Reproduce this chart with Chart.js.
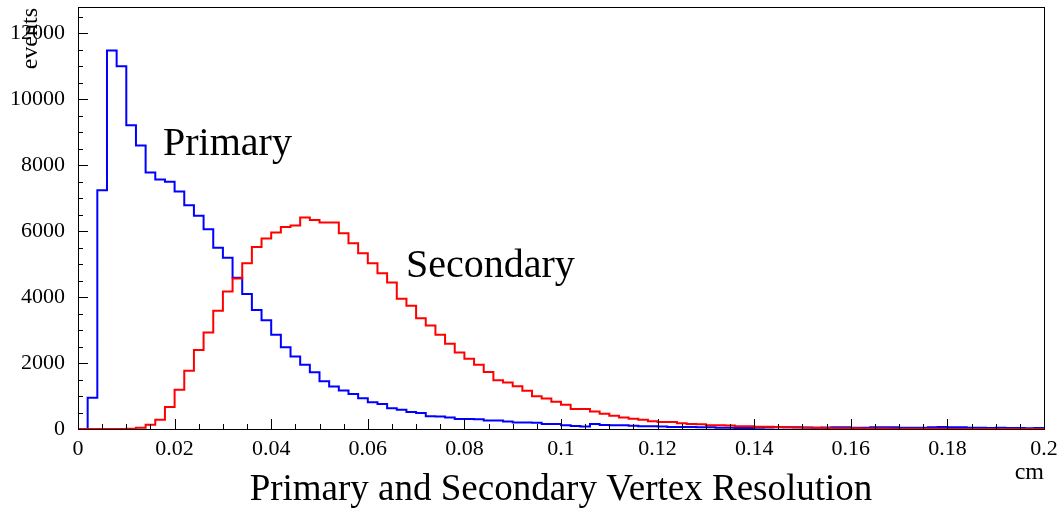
<!DOCTYPE html>
<html>
<head>
<meta charset="utf-8">
<script src="https://cdn.jsdelivr.net/npm/chart.js@4.4.1/dist/chart.umd.min.js"></script>
<style>
  html, body { margin: 0; padding: 0; background: #fff; }
  #wrap { width: 1057px; height: 510px; }
</style>
</head>
<body>
<div id="wrap"><canvas id="resChart" width="1057" height="510"></canvas></div>
<script>
// 100 bins de 0.002 cm, de 0 a 0.2
var binWidth = 0.002;
var xTicks = [0, 0.02, 0.04, 0.06, 0.08, 0.1, 0.12, 0.14, 0.16, 0.18, 0.2];
var xTickLabels = ['0', '0.02', '0.04', '0.06', '0.08', '0.1', '0.12', '0.14', '0.16', '0.18', '0.2'];
var yTicks = [0, 2000, 4000, 6000, 8000, 10000, 12000];
var yTickLabels = ['0', '2000', '4000', '6000', '8000', '10000', '12000'];

// eventos por bin
var primary = [
  0, 950, 7240, 11480, 11000, 9210, 8600, 7780, 7570, 7500,
  7205, 6790, 6470, 6055, 5500, 5195, 4590, 4095, 3610, 3300,
  2855, 2480, 2200, 1950, 1725, 1450, 1290, 1165, 1065, 935,
  815, 760, 630, 585, 515, 485, 385, 380, 350, 300,
  300, 295, 260, 255, 230, 200, 200, 190, 155, 150,
  110, 90, 75, 150, 120, 110, 110, 100, 85, 80,
  75, 60, 60, 60, 55, 50, 40, 35, 30, 30,
  35, 45, 50, 55, 50, 45, 40, 45, 55, 55,
  40, 35, 50, 55, 50, 40, 35, 40, 50, 60,
  55, 50, 40, 35, 30, 35, 30, 30, 25, 30
];
var secondary = [
  0, 0, 0, 0, 0, 10, 35, 130, 280, 665,
  1190, 1766, 2400, 2927, 3585, 4170, 4563, 5030, 5524, 5775,
  5957, 6130, 6170, 6412, 6342, 6260, 6260, 5940, 5636, 5333,
  5030, 4727, 4442, 3948, 3736, 3363, 3140, 2857, 2585, 2321,
  2130, 1948, 1727, 1480, 1412, 1300, 1160, 995, 925, 830,
  736, 606, 606, 533, 463, 400, 350, 308, 277, 236,
  215, 210, 175, 150, 145, 115, 110, 105, 85, 80,
  70, 65, 60, 50, 45, 40, 35, 30, 25, 25,
  20, 18, 15, 12, 10, 10, 8, 6, 5, 5,
  3, 3, 2, 2, 1, 1, 1, 0, 0, 0
];

var serif = '"Liberation Serif", "DejaVu Serif", serif';

// pontos do histograma: borda esquerda de cada bin + borda final
function histPoints(values) {
  var pts = values.map(function(v, i) { return { x: i * binWidth, y: v }; });
  pts.push({ x: values.length * binWidth, y: values[values.length - 1] });
  return pts;
}

// moldura, ticks internos (estilo ROOT) e textos
var rootStyle = {
  id: 'rootStyle',
  afterDraw: function(chart) {
    var c = chart.ctx, a = chart.chartArea;
    var xs = chart.scales.x, ys = chart.scales.y;
    c.save();
    c.strokeStyle = '#000';
    c.lineWidth = 1;
    c.strokeRect(a.left + 0.5, a.top + 0.5, a.right - a.left, a.bottom - a.top);
    c.beginPath();
    for (var i = 0; i <= 40; i++) {
      var px = Math.round(xs.getPixelForValue(i * 0.005)) + 0.5;
      var len = (i % 4 === 0) ? 10 : 5;
      c.moveTo(px, a.bottom);
      c.lineTo(px, a.bottom - len);
    }
    for (var j = 0; j * 500 <= ys.max; j++) {
      var py = Math.round(ys.getPixelForValue(j * 500)) + 0.5;
      var l2 = (j % 4 === 0) ? 10 : 5;
      c.moveTo(a.left, py);
      c.lineTo(a.left + l2, py);
    }
    c.stroke();

    c.fillStyle = '#000';
    c.font = '40px ' + serif;
    c.textAlign = 'left';
    c.textBaseline = 'alphabetic';
    c.fillText('Primary', xs.getPixelForValue(0.0176), ys.getPixelForValue(8310));
    c.fillText('Secondary', xs.getPixelForValue(0.0679), ys.getPixelForValue(4615));

    c.font = '37px ' + serif;
    c.textAlign = 'center';
    c.fillText('Primary and Secondary Vertex Resolution', (a.left + a.right) / 2, 500);

    c.font = '24px ' + serif;
    c.textAlign = 'right';
    c.fillText('cm', a.right, 479);

    c.translate(37, a.top + 1);
    c.rotate(-Math.PI / 2);
    c.font = '24px ' + serif;
    c.textAlign = 'right';
    c.fillText('events', 0, 0);
    c.restore();
  }
};

var ctx = document.getElementById('resChart').getContext('2d');
var resChart = new Chart(ctx, {
  type: 'line',
  data: {
    datasets: [{
      label: 'Secondary',
      data: histPoints(secondary),
      borderColor: '#ff0000',
      borderWidth: 2,
      stepped: 'before',
      pointRadius: 0,
      fill: false,
      order: 0
    }, {
      label: 'Primary',
      data: histPoints(primary),
      borderColor: '#0000ff',
      borderWidth: 2,
      stepped: 'before',
      pointRadius: 0,
      fill: false,
      order: 1
    }]
  },
  options: {
    responsive: false,
    animation: false,
    layout: { padding: { left: 0, right: 13, top: 7, bottom: 0 } },
    plugins: {
      legend: { display: false },
      tooltip: { enabled: false }
    },
    scales: {
      x: {
        type: 'linear',
        min: 0,
        max: 0.2,
        afterBuildTicks: function(scale) {
          scale.ticks = xTicks.map(function(v) { return { value: v }; });
        },
        afterFit: function(scale) {
          scale.height = 81;
          scale.paddingLeft = 0;
          scale.paddingRight = 0;
        },
        grid: { display: false, drawTicks: false },
        border: { display: false },
        ticks: {
          autoSkip: false,
          maxRotation: 0,
          padding: 7,
          color: '#000',
          font: { family: serif, size: 22 },
          callback: function(v, i) { return xTickLabels[i]; }
        }
      },
      y: {
        min: 0,
        max: 12800,
        afterBuildTicks: function(scale) {
          scale.ticks = yTicks.map(function(v) { return { value: v }; });
        },
        afterFit: function(scale) {
          scale.width = 78;
          scale.paddingTop = 0;
          scale.paddingBottom = 0;
        },
        grid: { display: false, drawTicks: false },
        border: { display: false },
        ticks: {
          autoSkip: false,
          padding: 13,
          color: '#000',
          font: { family: serif, size: 22 },
          callback: function(v, i) { return yTickLabels[i]; }
        }
      }
    }
  },
  plugins: [rootStyle]
});
</script>
</body>
</html>
